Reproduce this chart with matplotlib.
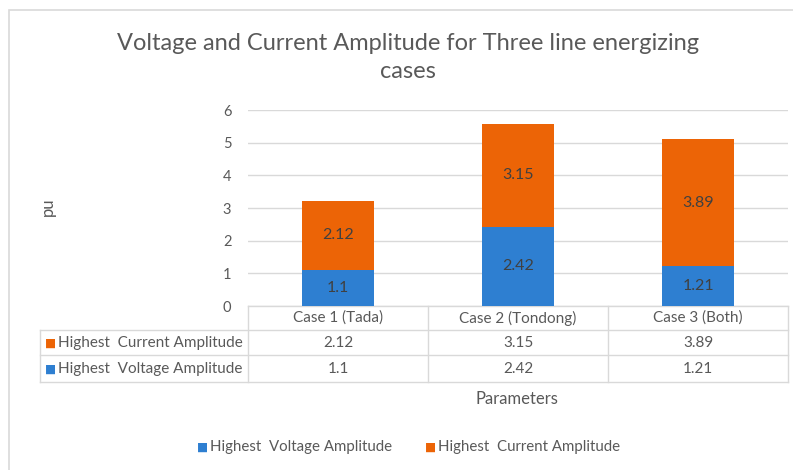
import numpy as np
import matplotlib.pyplot as plt
from matplotlib.patches import Rectangle
from matplotlib.transforms import blended_transform_factory

plt.rcParams['font.family'] = ['Lato', 'DejaVu Sans']

# data
cases = ["Case 1 (Tada)", "Case 2 (Tondong)", "Case 3 (Both)"]
voltage = [1.1, 2.42, 1.21]
current = [2.12, 3.15, 3.89]
series_names = ["Highest  Voltage Amplitude", "Highest  Current Amplitude"]

c_volt = '#2e7fd1'
c_curr = '#ec6406'
txt = '#595959'
grid = '#d9d9d9'

fig = plt.figure(figsize=(7.93, 4.70), dpi=100)
W, H = 793, 470

# outer chart frame
fig.patches.append(Rectangle((9 / W, -0.1), 1.0, 1 - 10 / H + 0.1,
                             transform=fig.transFigure, fill=False,
                             edgecolor='#d9d9d9', lw=1.2))

ax = fig.add_axes([248 / W, 1 - 306 / H, (788 - 248) / W, (306 - 110) / H])
x = np.arange(len(cases))
ax.bar(x, voltage, width=0.4, color=c_volt, zorder=3)
ax.bar(x, current, width=0.4, bottom=voltage, color=c_curr, zorder=3)

for i in range(len(cases)):
    ax.text(x[i], voltage[i] / 2, f"{voltage[i]:g}", ha='center', va='center',
            fontsize=11.5, color='#404040', zorder=4)
    ax.text(x[i], voltage[i] + current[i] / 2, f"{current[i]:g}", ha='center',
            va='center', fontsize=11.5, color='#404040', zorder=4)

ax.set_xlim(-0.5, 2.5)
ax.set_ylim(0, 6)
ax.set_yticks(range(0, 7))
ax.yaxis.grid(True, color=grid, lw=1, zorder=0)
ax.set_xticks([])
for s in ax.spines.values():
    s.set_visible(False)
ax.tick_params(axis='y', length=0, labelsize=10.5, labelcolor=txt, pad=12)

# data table under the plot
tr = blended_transform_factory(ax.transData, fig.transFigure)
row_edges = [306, 330, 355, 382]
xleft = ax.transData.inverted().transform((40, 0))[0]
col_edges = [-0.5, 0.5, 1.5, 2.5]

def fy(p):
    return 1 - p / H

lkw = dict(color=grid, lw=1, transform=tr, clip_on=False)
ax.plot([-0.5, 2.5], [fy(306)] * 2, **lkw)
for r in row_edges[1:]:
    ax.plot([xleft, 2.5], [fy(r)] * 2, **lkw)
ax.plot([xleft, xleft], [fy(330), fy(382)], **lkw)
for c in col_edges:
    ax.plot([c, c], [fy(306), fy(382)], **lkw)

tfs = 11
for i, name in enumerate(cases):
    ax.text(x[i], fy(318), name, ha='center', va='center', fontsize=tfs,
            color=txt, transform=tr)
    ax.text(x[i], fy(343), f"{current[i]:g}", ha='center', va='center',
            fontsize=tfs, color=txt, transform=tr)
    ax.text(x[i], fy(369), f"{voltage[i]:g}", ha='center', va='center',
            fontsize=tfs, color=txt, transform=tr)

rows = [(series_names[1], c_curr, 343), (series_names[0], c_volt, 369)]
for name, col, yp in rows:
    fig.text(45 / W, fy(yp), "■", color=col, fontsize=8.5, va='center',
             family='DejaVu Sans')
    fig.text(58 / W, fy(yp), name, color=txt, fontsize=tfs, va='center')

# axis titles
fig.text(517 / W, fy(399), "Parameters", ha='center', va='center',
         fontsize=12, color=txt)
fig.text(48 / W, fy(207), "pu", ha='center', va='center', rotation=90,
         fontsize=12, color=txt)

# title
fig.text(408 / W, fy(44), "Voltage and Current Amplitude for Three line energizing",
         ha='center', va='center', fontsize=17, color=txt)
fig.text(408 / W, fy(72), "cases", ha='center', va='center', fontsize=17,
         color=txt)

# legend
lfs = 10.8
fig.text(197 / W, fy(447), "■", color=c_volt, fontsize=8.5, va='center',
         family='DejaVu Sans')
fig.text(210 / W, fy(447), series_names[0], color=txt, fontsize=lfs, va='center')
fig.text(425 / W, fy(447), "■", color=c_curr, fontsize=8.5, va='center',
         family='DejaVu Sans')
fig.text(438 / W, fy(447), series_names[1], color=txt, fontsize=lfs, va='center')

fig.savefig('out.png', dpi=100)
